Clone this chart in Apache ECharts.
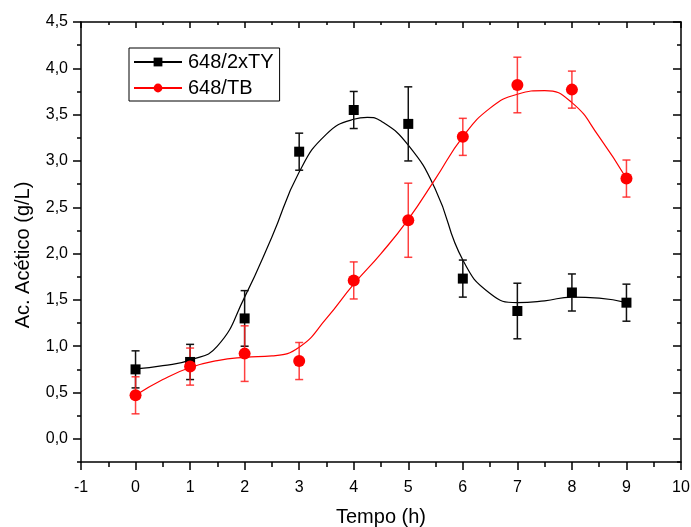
<!DOCTYPE html>
<html>
<head>
<meta charset="utf-8">
<script src="https://cdn.jsdelivr.net/npm/echarts@6/dist/echarts.min.js"></script>
<style>
  html, body { margin: 0; padding: 0; background: #fff; }
  #chart { width: 691px; height: 527px; }
</style>
</head>
<body>
<div id="chart"></div>
<script>
// Sampling times (h)
const times = [0, 1, 2, 3, 4, 5, 6, 7, 8, 9];

// Acetic acid, strain 648/2xTY: means and standard deviations (g/L)
const tyMean = [0.75, 0.83, 1.30, 3.10, 3.55, 3.40, 1.73, 1.38, 1.58, 1.47];
const tyErr  = [0.20, 0.19, 0.30, 0.20, 0.20, 0.40, 0.20, 0.30, 0.20, 0.20];

// Acetic acid, strain 648/TB: means and standard deviations (g/L)
const tbMean = [0.47, 0.78, 0.92, 0.84, 1.71, 2.36, 3.26, 3.82, 3.77, 2.81];
const tbErr  = [0.20, 0.20, 0.30, 0.20, 0.20, 0.40, 0.20, 0.30, 0.20, 0.20];

// Smoothed fit curves (time, g/L)
const tyCurveX = [0, 0.5, 1, 1.5, 2, 2.5, 3, 3.5, 4, 4.25, 4.5, 5, 5.5, 6, 6.5, 7, 7.5, 8, 8.5, 9];
const tyCurveY = [0.755, 0.79, 0.85, 1.0, 1.53, 2.18, 2.88, 3.29, 3.45, 3.47, 3.43, 3.17, 2.69, 1.93, 1.57, 1.47, 1.49, 1.53, 1.52, 1.47];
const tbCurveX = [0, 0.5, 1, 1.5, 2, 2.5, 3, 3.5, 4, 4.5, 5, 5.5, 6, 6.5, 7, 7.5, 8, 8.5, 9];
const tbCurveY = [0.47, 0.64, 0.77, 0.845, 0.88, 0.895, 0.99, 1.30, 1.67, 2.00, 2.37, 2.81, 3.26, 3.57, 3.72, 3.76, 3.63, 3.26, 2.81];

// Axis ticks
const xTicks = [-1, 0, 1, 2, 3, 4, 5, 6, 7, 8, 9, 10];
const yMajorTicks = [0, 0.5, 1, 1.5, 2, 2.5, 3, 3.5, 4, 4.5];

const FONT = '"Liberation Sans", Arial, sans-serif';
const X_MIN = xTicks[0], X_MAX = xTicks[xTicks.length - 1];
const Y_MIN = -0.25, Y_MAX = yMajorTicks[yMajorTicks.length - 1];

const zip = (xs, ys) => xs.map((x, i) => [x, ys[i]]);

function errorBars(name, color, means, errs) {
  return {
    type: 'custom',
    name: name,
    xAxisIndex: 0,
    yAxisIndex: 0,
    silent: true,
    z: 3,
    data: times.map((t, i) => [t, means[i] - errs[i], means[i] + errs[i]]),
    renderItem: function (params, api) {
      const lo = api.coord([api.value(0), api.value(1)]);
      const hi = api.coord([api.value(0), api.value(2)]);
      const cap = 4;
      const style = { stroke: color, lineWidth: 1.5, fill: null };
      return {
        type: 'group',
        children: [
          { type: 'line', shape: { x1: lo[0], y1: lo[1], x2: hi[0], y2: hi[1] }, style: style },
          { type: 'line', shape: { x1: lo[0] - cap, y1: lo[1], x2: lo[0] + cap, y2: lo[1] }, style: style },
          { type: 'line', shape: { x1: hi[0] - cap, y1: hi[1], x2: hi[0] + cap, y2: hi[1] }, style: style }
        ]
      };
    }
  };
}

const axisLine = { show: true, onZero: false, lineStyle: { color: '#000', width: 1.5 } };
const noLine = { show: false, onZero: false };
const tickStyle = { color: '#000', width: 1.5 };

const xBase = { type: 'value', min: X_MIN, max: X_MAX, interval: 1, splitLine: { show: false } };
const yBase = { type: 'value', min: Y_MIN, max: Y_MAX, interval: 0.25, splitLine: { show: false } };

const chart = echarts.init(document.getElementById('chart'), null, { renderer: 'canvas' });

chart.setOption({
  animation: false,
  backgroundColor: '#fff',
  grid: { left: 81, right: 10, top: 22, bottom: 65, containLabel: false, outerBoundsMode: 'none' },
  legend: {
    data: ['648/2xTY', '648/TB'],
    orient: 'vertical',
    left: 129,
    top: 48,
    padding: [4, 6, 3, 4],
    itemGap: 6,
    itemWidth: 48,
    itemHeight: 11,
    borderColor: '#000',
    borderWidth: 1,
    borderRadius: 0,
    textStyle: { fontFamily: FONT, fontSize: 20, color: '#000', padding: [0, 0, 0, 1] }
  },
  xAxis: [
    Object.assign({}, xBase, {
      position: 'bottom',
      axisLine: axisLine,
      axisTick: { show: true, inside: false, length: 8, lineStyle: tickStyle },
      minorTick: { show: true, splitNumber: 2, length: 5, lineStyle: tickStyle },
      axisLabel: { show: true, margin: 18, fontFamily: FONT, fontSize: 16, color: '#000' },
      name: 'Tempo (h)',
      nameLocation: 'middle',
      nameGap: 45,
      nameTextStyle: { fontFamily: FONT, fontSize: 20, color: '#000' }
    }),
    Object.assign({}, xBase, {
      position: 'top',
      axisLine: axisLine,
      axisTick: { show: true, inside: true, length: 6, lineStyle: tickStyle },
      minorTick: { show: true, splitNumber: 2, length: 3, lineStyle: tickStyle },
      axisLabel: { show: false }
    })
  ],
  yAxis: [
    Object.assign({}, yBase, {
      position: 'left',
      axisLine: axisLine,
      axisTick: { show: true, inside: false, length: 8, lineStyle: tickStyle, customValues: yMajorTicks },
      axisLabel: {
        show: true, margin: 13, fontFamily: FONT, fontSize: 16, color: '#000',
        customValues: yMajorTicks,
        formatter: v => v.toFixed(1).replace('.', ',')
      },
      name: 'Ac. Acético (g/L)',
      nameLocation: 'middle',
      nameGap: 48,
      nameRotate: 90,
      nameTextStyle: { fontFamily: FONT, fontSize: 20, color: '#000', padding: [0, 26, 0, 0] }
    }),
    Object.assign({}, yBase, {
      position: 'left',
      axisLine: noLine,
      axisTick: { show: true, inside: false, length: 4, lineStyle: tickStyle },
      axisLabel: { show: false }
    }),
    Object.assign({}, yBase, {
      position: 'right',
      axisLine: axisLine,
      axisTick: { show: true, inside: true, length: 8, lineStyle: tickStyle, customValues: yMajorTicks },
      axisLabel: { show: false }
    }),
    Object.assign({}, yBase, {
      position: 'right',
      axisLine: noLine,
      axisTick: { show: true, inside: true, length: 4, lineStyle: tickStyle },
      axisLabel: { show: false }
    })
  ],
  series: [
    {
      type: 'line',
      name: '648/2xTY',
      xAxisIndex: 0, yAxisIndex: 0,
      data: zip(tyCurveX, tyCurveY),
      smooth: true,
      showSymbol: false,
      symbol: 'rect',
      color: '#000',
      lineStyle: { color: '#000', width: 1.2 },
      itemStyle: { color: '#000' },
      z: 2
    },
    {
      type: 'line',
      name: '648/TB',
      xAxisIndex: 0, yAxisIndex: 0,
      data: zip(tbCurveX, tbCurveY),
      smooth: true,
      showSymbol: false,
      symbol: 'circle',
      color: '#ff0000',
      lineStyle: { color: '#ff0000', width: 1.2 },
      itemStyle: { color: '#ff0000' },
      z: 2
    },
    errorBars('648/2xTY sd', '#111', tyMean, tyErr),
    {
      type: 'scatter',
      name: '648/2xTY pts',
      xAxisIndex: 0, yAxisIndex: 0,
      data: zip(times, tyMean),
      symbol: 'rect',
      symbolSize: 10,
      itemStyle: { color: '#000', opacity: 1 },
      z: 4
    },
    errorBars('648/TB sd', 'rgba(255,30,30,0.85)', tbMean, tbErr),
    {
      type: 'scatter',
      name: '648/TB pts',
      xAxisIndex: 0, yAxisIndex: 0,
      data: zip(times, tbMean),
      symbol: 'circle',
      symbolSize: 12,
      itemStyle: { color: '#ff0000', opacity: 1 },
      z: 5
    }
  ]
});
</script>
</body>
</html>
